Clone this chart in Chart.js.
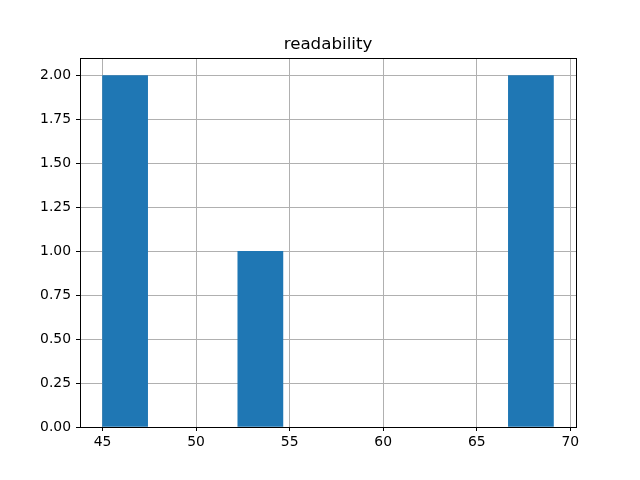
<!DOCTYPE html>
<html>
<head>
<meta charset="utf-8">
<script src="https://cdn.jsdelivr.net/npm/chart.js@4/dist/chart.umd.min.js"></script>
<style>
  html, body { margin: 0; padding: 0; background: #fff; }
  #wrap { width: 640px; height: 480px; }
</style>
</head>
<body>
<div id="wrap"><canvas id="grafico" width="640" height="480"></canvas></div>
<script>
// Dados do histograma
const titulo = 'readability';
const binInicio = 45;
const binLargura = 2.41;
const contagens = [2, 0, 0, 1, 0, 0, 0, 0, 0, 2];
const xTicks = [45, 50, 55, 60, 65, 70];
const yTicks = [0, 0.25, 0.5, 0.75, 1.0, 1.25, 1.5, 1.75, 2.0];

// centro de cada bin (bins vazios ficam null para não desenhar nada)
const pontos = contagens.map((c, i) => ({ x: binInicio + (i + 0.5) * binLargura, y: c || null }));
const xFim = binInicio + contagens.length * binLargura;
const pad = (xFim - binInicio) * 0.05;

const fonte = { family: 'DejaVu Sans', size: 13.9 };

// Moldura preta em volta da área do gráfico + título centrado nela
const moldura = {
  id: 'moldura',
  afterDraw(chart) {
    const a = chart.chartArea;
    const ctx = chart.ctx;
    ctx.save();
    ctx.strokeStyle = '#000';
    ctx.lineWidth = 1;
    ctx.strokeRect(Math.round(a.left) + 0.5, Math.round(a.top) + 0.5,
      Math.round(a.right - a.left), Math.round(a.bottom - a.top));
    ctx.fillStyle = '#000';
    ctx.font = '16.7px "DejaVu Sans"';
    ctx.textAlign = 'center';
    ctx.textBaseline = 'alphabetic';
    ctx.fillText(titulo, (a.left + a.right) / 2, a.top - 9);
    ctx.restore();
  }
};

new Chart(document.getElementById('grafico').getContext('2d'), {
  type: 'bar',
  data: {
    datasets: [{
      data: pontos,
      backgroundColor: '#1f77b4',
      borderWidth: 0,
      barPercentage: 1,
      categoryPercentage: 1
    }]
  },
  options: {
    responsive: false,
    animation: false,
    layout: { padding: { left: 0, right: 64, top: 58, bottom: 0 } },
    plugins: {
      legend: { display: false },
      tooltip: { enabled: false },
      title: { display: false }
    },
    scales: {
      x: {
        type: 'linear',
        offset: false,
        min: binInicio - pad,
        max: xFim + pad,
        z: 1,
        afterBuildTicks: s => { s.ticks = xTicks.map(v => ({ value: v })); },
        afterFit: s => { s.height = 53; },
        ticks: { color: '#000', font: fonte, padding: 3, maxRotation: 0, callback: v => String(v) },
        grid: { offset: false, color: '#b0b0b0', lineWidth: 1, tickColor: '#000', tickLength: 4 },
        border: { display: false }
      },
      y: {
        min: 0,
        max: 2.1,
        z: 1,
        afterBuildTicks: s => { s.ticks = yTicks.map(v => ({ value: v })); },
        afterFit: s => { s.width = 80; },
        ticks: { color: '#000', font: fonte, padding: 5, callback: v => Number(v).toFixed(2) },
        grid: { color: '#b0b0b0', lineWidth: 1, tickColor: '#000', tickLength: 4 },
        border: { display: false }
      }
    }
  },
  plugins: [moldura]
});
</script>
</body>
</html>
